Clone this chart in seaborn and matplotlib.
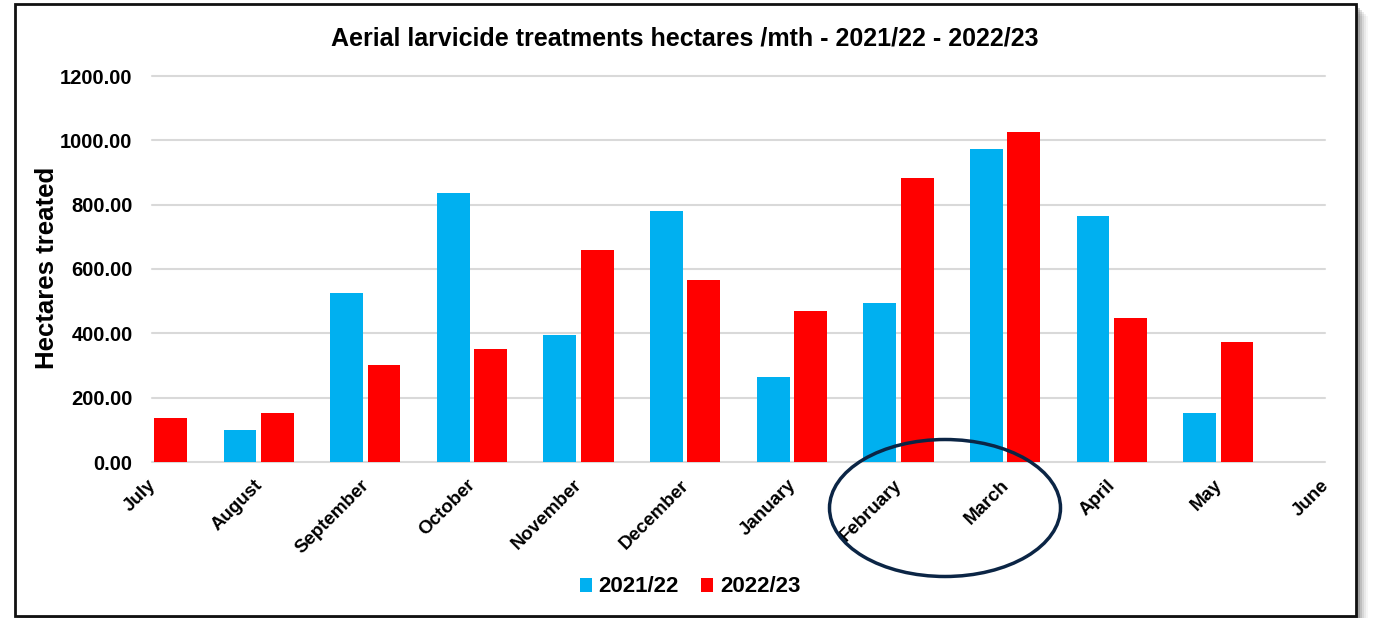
import matplotlib
matplotlib.use("Agg")
import matplotlib.pyplot as plt
import matplotlib.patches as mpatches
from matplotlib.ticker import FuncFormatter, FixedLocator
import matplotlib.transforms as mtransforms
import seaborn as sns
import pandas as pd

months = ["July", "August", "September", "October", "November", "December",
          "January", "February", "March", "April", "May", "June"]
season_a = "2021/22"
season_b = "2022/23"
values_a = [0, 100, 525, 836, 395, 780, 264, 494, 973, 765, 152, 0]
values_b = [137, 152, 301, 351, 659, 566, 469, 883, 1026, 448, 373, 0]
y_ticks = [0, 200, 400, 600, 800, 1000, 1200]

title = "Aerial larvicide treatments hectares /mth - 2021/22 - 2022/23"
y_label = "Hectares treated"

BLUE = "#00B0F0"
RED = "#FF0000"

df = pd.DataFrame({
    "month": months * 2,
    "value": values_a + values_b,
    "season": [season_a] * len(months) + [season_b] * len(months),
})

sns.set_theme(style="white")
plt.rcParams["font.family"] = ["Liberation Sans", "DejaVu Sans"]
plt.rcParams["text.color"] = "black"
plt.rcParams["xtick.color"] = "black"
plt.rcParams["ytick.color"] = "black"
plt.rcParams["xtick.labelcolor"] = "black"
plt.rcParams["ytick.labelcolor"] = "black"

W, H = 1373, 618
fig = plt.figure(figsize=(W / 100, H / 100), dpi=100)
fig.patch.set_facecolor("white")


def fx(px):
    return px / W


def fy(py):
    return 1 - py / H


# frame with shadow
x0, x1, y0, y1 = 15, 1356, 4, 616
for k, a in [(12, 0.05), (10, 0.08), (8, 0.12), (6, 0.18), (4, 0.28), (2, 0.4)]:
    fig.patches.append(mpatches.Rectangle((fx(x0 + k), fy(y1 + k)), fx(x1 - x0), (y1 - y0) / H,
                                          transform=fig.transFigure, facecolor="#555555",
                                          edgecolor="none", alpha=a, zorder=-3))
fig.patches.append(mpatches.Rectangle((fx(x0), fy(y1)), fx(x1 - x0), (y1 - y0) / H,
                                      transform=fig.transFigure, facecolor="white",
                                      edgecolor="#111111", linewidth=2.0, zorder=-2))

ax_left, ax_right, ax_top, ax_bottom = 152, 1325, 76, 462
ax = fig.add_axes([fx(ax_left), fy(ax_bottom), fx(ax_right - ax_left), (ax_bottom - ax_top) / H])
ax.set_facecolor("none")

sns.barplot(data=df, x="month", y="value", hue="season", palette=[BLUE, RED],
            width=0.7, gap=0.12, ax=ax, linewidth=0, saturation=1)

handles, labels = ax.get_legend_handles_labels()
if ax.get_legend() is not None:
    ax.get_legend().remove()

ax.set_xlim(0, len(months) - 1)
ax.set_ylim(0, 1200)
ax.yaxis.set_major_locator(FixedLocator(y_ticks))
ax.yaxis.set_major_formatter(FuncFormatter(lambda v, _: f"{v:.2f}"))
ax.set_axisbelow(True)
ax.yaxis.grid(True, color="#D9D9D9", linewidth=1.5)
ax.xaxis.grid(False)
for gl in ax.get_ygridlines():
    gl.set_clip_on(False)
for s in ax.spines.values():
    s.set_visible(False)

ax.set_xlabel("")
ax.set_ylabel("")
ax.tick_params(axis="y", length=0, pad=14, labelsize=14.5, labelcolor="black")
ax.tick_params(axis="x", length=0, pad=4, labelsize=13.5, labelcolor="black")
for lab in ax.get_yticklabels():
    lab.set_fontweight("bold")
offset = mtransforms.ScaledTranslation(1 / 100, -15 / 100, fig.dpi_scale_trans)
for lab in ax.get_xticklabels():
    lab.set_fontweight("bold")
    lab.set_rotation(45)
    lab.set_ha("right")
    lab.set_va("center")
    lab.set_rotation_mode("anchor")
    lab.set_transform(lab.get_transform() + offset)

fig.text(fx(685), fy(38), title, ha="center", va="center", fontsize=18,
         fontweight="bold", color="black")
fig.text(fx(47), fy(268), y_label, ha="center", va="center", rotation=90,
         fontsize=18.5, fontweight="bold", color="black")

fig.legend(handles, labels, loc="center", bbox_to_anchor=(fx(690), fy(587)), ncol=2,
           frameon=False, prop={"size": 16, "weight": "bold"}, handlelength=0.55,
           handleheight=0.6, handletextpad=0.3, columnspacing=1.0, labelcolor="black")

fig.patches.append(mpatches.Ellipse((fx(945), fy(508)), fx(231), 137 / H,
                                    transform=fig.transFigure, facecolor="none",
                                    edgecolor="#0B2545", linewidth=2.5, zorder=5))

fig.savefig("out.png", dpi=100, facecolor="white")
